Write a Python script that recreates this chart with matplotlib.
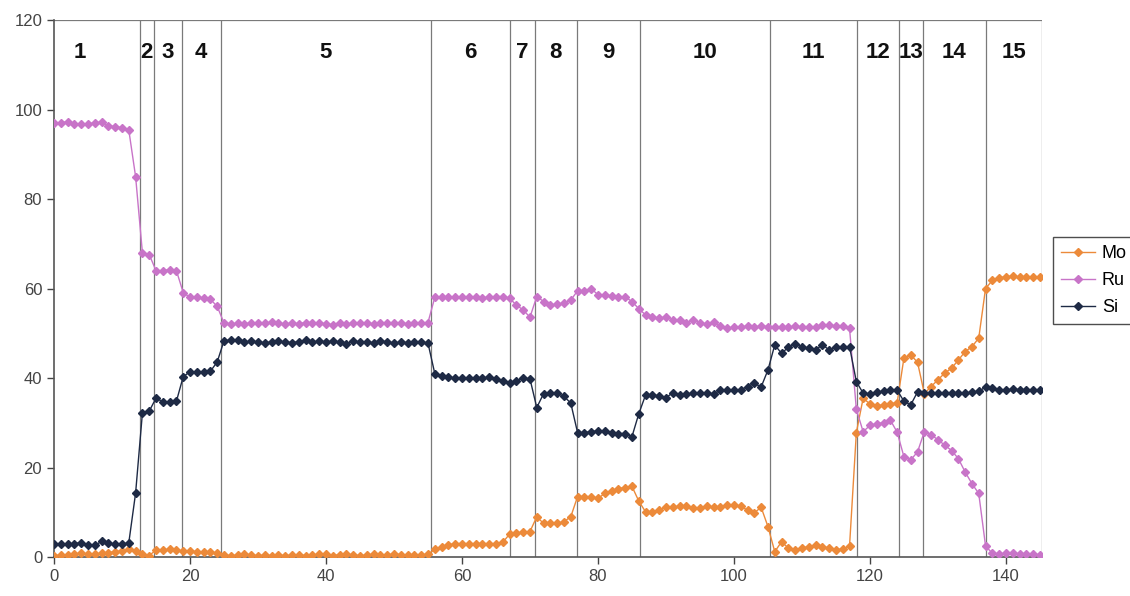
import numpy as np
import matplotlib
matplotlib.use("Agg")
from matplotlib import pyplot as plt

plt.rcParams['font.family'] = ['Liberation Sans', 'DejaVu Sans']

# depth points (one per measurement)
x = np.arange(146)

mo = [0.3, 0.4, 0.5, 0.6, 0.8, 0.7, 0.6, 0.8, 1.0, 1.2, 1.4, 1.8, 1.3, 0.6, 0.3,
      1.6, 1.6, 1.7, 1.6, 1.3, 1.3, 1.2, 1.1, 1.1, 0.9,
      0.4, 0.3, 0.4, 0.6, 0.4, 0.3, 0.4, 0.3, 0.4, 0.3, 0.4, 0.5, 0.3, 0.4, 0.6, 0.6,
      0.3, 0.5, 0.7, 0.4, 0.3, 0.4, 0.6, 0.5, 0.4, 0.7, 0.5, 0.4, 0.4, 0.5, 0.6,
      1.7, 2.3, 2.7, 3.0, 3.0, 3.0, 3.0, 3.0, 3.0, 3.0, 3.3, 5.1, 5.3, 5.5, 5.7,
      9.0, 7.5, 7.5, 7.5, 7.9, 9.0, 13.5, 13.5, 13.5, 13.1, 14.2, 14.8, 15.3, 15.5, 15.8, 12.5,
      10.1, 10.1, 10.5, 11.2, 11.2, 11.3, 11.5, 10.9, 10.9, 11.3, 11.2, 11.2, 11.7, 11.7,
      11.3, 10.5, 9.9, 11.1, 6.8, 1.2, 3.4, 2.0, 1.6, 2.0, 2.3, 2.7, 2.3, 2.0, 1.6, 1.8, 2.5,
      27.8, 35.5, 34.2, 33.8, 34.0, 34.2, 34.5, 44.5, 45.2, 43.5,
      36.5, 38.1, 39.6, 41.1, 42.2, 44.0, 45.9, 47.0, 48.9,
      60.0, 61.8, 62.4, 62.6, 62.8, 62.5, 62.6, 62.6, 62.6]

ru = [97.0, 97.0, 97.3, 96.8, 96.7, 96.8, 97.0, 97.2, 96.3, 96.2, 95.9, 95.4, 85.0, 68.0, 67.6,
      64.0, 64.0, 64.2, 64.0, 59.1, 58.0, 58.0, 57.8, 57.6, 56.0,
      52.3, 52.0, 52.2, 52.1, 52.3, 52.4, 52.2, 52.5, 52.3, 52.0, 52.3, 52.1, 52.4, 52.2, 52.3, 52.1,
      51.9, 52.4, 52.1, 52.2, 52.4, 52.3, 52.1, 52.3, 52.4, 52.2, 52.3, 52.1, 52.2, 52.3, 52.4,
      58.0, 58.2, 58.1, 58.1, 58.0, 58.0, 58.0, 57.9, 58.1, 58.2, 58.2, 57.8, 56.3, 55.2, 53.6,
      58.2, 57.1, 56.3, 56.5, 56.7, 57.4, 59.5, 59.4, 60.0, 58.6, 58.6, 58.3, 58.1, 58.1, 57.1, 55.5,
      54.1, 53.6, 53.4, 53.6, 53.0, 52.9, 52.4, 53.0, 52.4, 52.0, 52.6, 51.6, 51.1, 51.3, 51.4,
      51.6, 51.4, 51.6, 51.5, 51.5, 51.4, 51.3, 51.6, 51.3, 51.5, 51.3, 51.8, 51.8, 51.6, 51.6, 51.1,
      33.0, 28.0, 29.4, 29.8, 30.0, 30.6, 27.9, 22.4, 21.7, 23.5,
      28.0, 27.3, 26.2, 25.0, 23.8, 22.0, 19.0, 16.4, 14.2,
      2.5, 0.8, 0.6, 0.8, 1.0, 0.6, 0.7, 0.6, 0.5]

si = [3.0, 2.8, 2.8, 3.0, 3.2, 2.7, 2.6, 3.5, 3.1, 2.8, 2.8, 3.2, 14.3, 32.2, 32.6,
      35.5, 34.7, 34.7, 34.8, 40.3, 41.4, 41.4, 41.4, 41.5, 43.6,
      48.3, 48.5, 48.6, 48.0, 48.2, 48.0, 47.9, 48.0, 48.2, 48.0, 47.9, 48.1, 48.5, 48.0, 48.2, 48.1,
      48.2, 48.0, 47.7, 48.2, 48.1, 48.0, 47.9, 48.2, 48.1, 47.8, 48.0, 47.9, 48.0, 48.0, 47.8,
      41.0, 40.4, 40.2, 40.0, 40.0, 40.0, 40.0, 40.0, 40.2, 39.8, 39.3, 38.9, 39.4, 40.0, 39.8,
      33.4, 36.5, 36.6, 36.6, 35.9, 34.4, 27.8, 27.8, 28.0, 28.2, 28.2, 27.8, 27.6, 27.6, 26.9, 32.0,
      36.2, 36.2, 36.0, 35.6, 36.7, 36.3, 36.4, 36.6, 36.7, 36.7, 36.4, 37.3, 37.3, 37.3, 37.4,
      38.1, 38.8, 38.0, 41.8, 47.4, 45.5, 46.9, 47.6, 47.0, 46.6, 46.3, 47.4, 46.3, 47.0, 47.0, 47.0,
      39.2, 36.6, 36.4, 36.8, 37.0, 37.4, 37.3, 34.8, 34.0, 36.9,
      36.6, 36.6, 36.6, 36.6, 36.6, 36.6, 36.6, 36.8, 37.0,
      38.0, 37.8, 37.4, 37.3, 37.5, 37.4, 37.4, 37.4, 37.4]

# layer boundaries and names
bounds = [0, 12.6, 14.7, 18.8, 24.5, 55.5, 67.0, 70.7, 76.9, 86.2, 105.3, 118.1, 124.2, 127.8, 137.0, 145.3]
layers = [str(i) for i in range(1, 16)]

fig = plt.figure(figsize=(11.3, 5.96), dpi=100)
ax = fig.add_axes([0.0478, 0.0654, 0.8743, 0.901])

grid_col = '#7a7a7a'
for b in bounds[1:]:
	ax.axvline(b, color=grid_col, lw=0.9, zorder=1)
ax.axhline(120, color=grid_col, lw=0.9, zorder=1)

ax.plot(x, mo, color='#ec8a3a', marker='D', markersize=3.8, lw=1.0, label='Mo', zorder=3)
ax.plot(x, ru, color='#c874c8', marker='D', markersize=3.8, lw=1.0, label='Ru', zorder=3)
ax.plot(x, si, color='#1e2a45', marker='D', markersize=3.8, lw=1.0, label='Si', zorder=4)

# layer numbers centred in each layer (first one sits a bit left in the original)
label_x = [(bounds[i] + bounds[i + 1]) / 2 for i in range(len(layers))]
label_x[0] = 3.8
for lx, name in zip(label_x, layers):
	ax.text(lx, 112.8, name, ha='center', va='center', fontsize=16, fontweight='bold', color='#111111')

ax.set_xlim(0, 145.3)
ax.set_ylim(0, 120)
ax.set_xticks(range(0, 141, 20))
ax.set_yticks(range(0, 121, 20))
ax.tick_params(labelsize=12, colors='#444444', length=5, width=1)
for side in ['top', 'right']:
	ax.spines[side].set_visible(False)
for side in ['left', 'bottom']:
	ax.spines[side].set_color('#555555')
	ax.spines[side].set_linewidth(1.2)

leg = fig.legend(loc='upper left', bbox_to_anchor=(0.9319, 0.6023), borderaxespad=0,
	fontsize=13, frameon=True, fancybox=False, edgecolor='#222222', handlelength=1.9,
	borderpad=0.45, labelspacing=0.55, handletextpad=0.35)
leg.get_frame().set_linewidth(1.0)

fig.savefig('out.png', dpi=100)
